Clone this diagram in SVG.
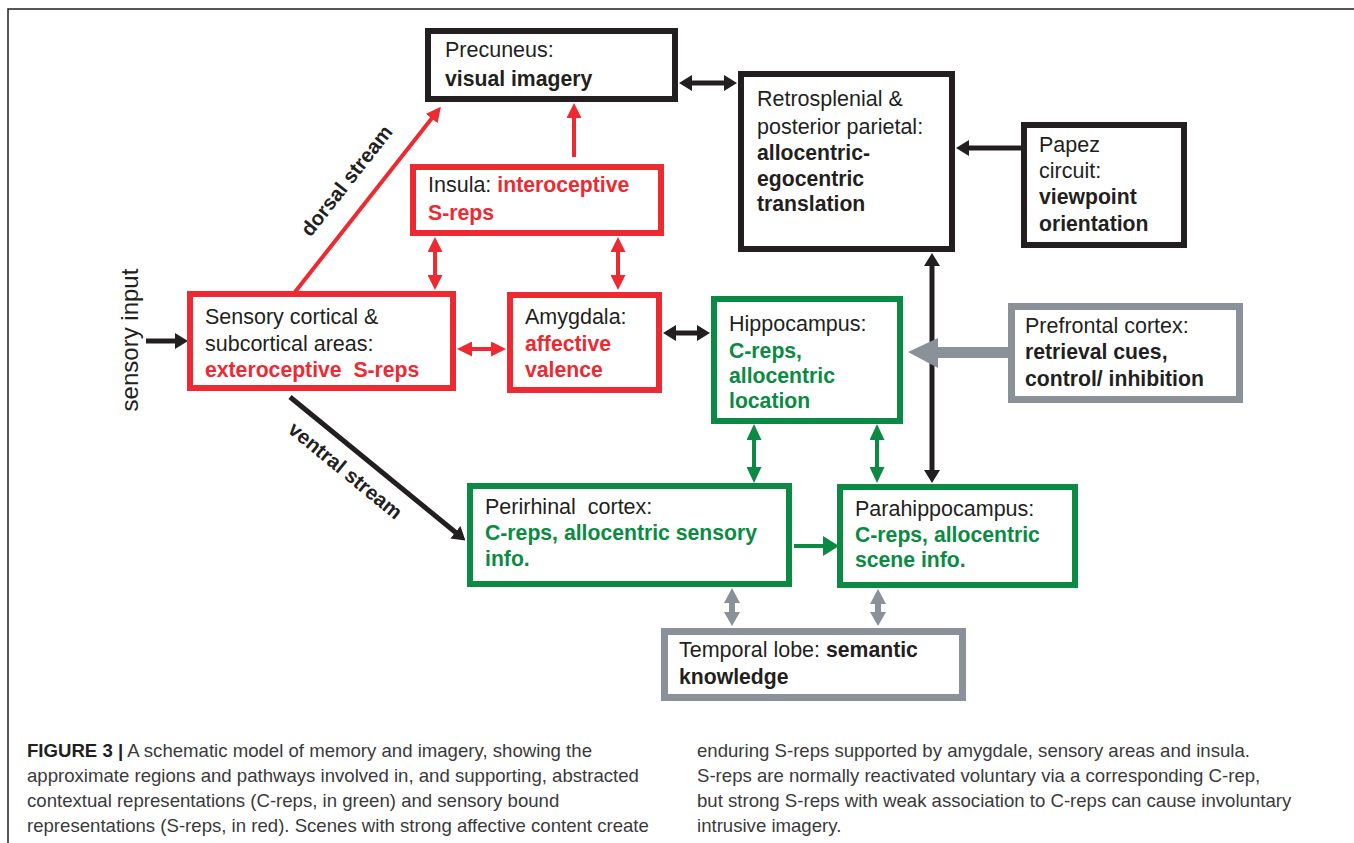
<svg xmlns="http://www.w3.org/2000/svg" width="1354" height="843" viewBox="0 0 1354 843">
<style>
text{font-family:"Liberation Sans",Arial,sans-serif;font-size:21.5px;fill:#231f20}
.b{font-weight:bold;font-size:21.2px}
.r{fill:#ed2a32}
.g{fill:#0b8a43}
.bk{fill:none;stroke:#231f20;stroke-width:6}
.bR{fill:none;stroke:#ed2a32;stroke-width:6}
.bG{fill:none;stroke:#0b8a43;stroke-width:6}
.bY{fill:none;stroke:#8a9199;stroke-width:7}
.cap{font-size:18.6px;fill:#3a3a3a}
.lk{stroke:#231f20;stroke-width:5;fill:none}
.lr{stroke:#ed2a32;stroke-width:4;fill:none}
.lg{stroke:#0b8a43;stroke-width:4;fill:none}
</style>
<defs>
<marker id="aK" markerUnits="userSpaceOnUse" markerWidth="13" markerHeight="16" refX="6" refY="8" orient="auto-start-reverse"><path d="M0,0 L13,8 L0,16 z" fill="#231f20"/></marker>
<marker id="aR" markerUnits="userSpaceOnUse" markerWidth="15" markerHeight="15" refX="7" refY="7.5" orient="auto-start-reverse"><path d="M0,0 L15,7.5 L0,15 z" fill="#ed2a32"/></marker>
<marker id="aG" markerUnits="userSpaceOnUse" markerWidth="16" markerHeight="15" refX="7" refY="7.5" orient="auto-start-reverse"><path d="M0,0 L16,7.5 L0,15 z" fill="#0b8a43"/></marker>
<marker id="aG2" markerUnits="userSpaceOnUse" markerWidth="16" markerHeight="20" refX="6" refY="10" orient="auto"><path d="M0,0 L16,10 L0,20 z" fill="#0b8a43"/></marker>
</defs>
<rect width="1354" height="843" fill="#fff"/>
<path d="M8,843 V9 H1354" fill="none" stroke="#231f20" stroke-width="1.5"/>

<g id="connectors">
<line class="lk" x1="146" y1="341" x2="181" y2="341" marker-end="url(#aK)"/>
<line class="lr" x1="295" y1="292" x2="436" y2="113" marker-end="url(#aR)"/>
<line class="lk" x1="290" y1="397" x2="460" y2="536" marker-end="url(#aK)"/>
<line class="lr" x1="574" y1="157" x2="574" y2="111" marker-end="url(#aR)"/>
<line class="lr" x1="435" y1="245" x2="435" y2="282" marker-start="url(#aR)" marker-end="url(#aR)"/>
<line class="lr" x1="618" y1="245" x2="618" y2="282" marker-start="url(#aR)" marker-end="url(#aR)"/>
<line class="lr" x1="465" y1="349" x2="498" y2="349" marker-start="url(#aR)" marker-end="url(#aR)"/>
<line class="lk" x1="670" y1="333" x2="703" y2="333" marker-start="url(#aK)" marker-end="url(#aK)"/>
<line class="lk" x1="686" y1="83" x2="730" y2="83" marker-start="url(#aK)" marker-end="url(#aK)"/>
<line class="lk" x1="1021" y1="148" x2="963" y2="148" marker-end="url(#aK)"/>
<line class="lk" x1="932" y1="260" x2="932" y2="476" marker-start="url(#aK)" marker-end="url(#aK)"/>
<path d="M1008,347 H938 V338 L908,352 L938,368 V358 H1008 z" fill="#8a9199"/>
<line class="lg" x1="754" y1="433" x2="754" y2="474" marker-start="url(#aG)" marker-end="url(#aG)"/>
<line class="lg" x1="877" y1="433" x2="877" y2="474" marker-start="url(#aG)" marker-end="url(#aG)"/>
<line class="lg" x1="794" y1="546" x2="829" y2="546" stroke-width="7" marker-end="url(#aG2)"/>
<path d="M732,588 L740,603 H735 V612 H740 L732,626 L724,612 H729 V603 H724 z" fill="#8a9199"/>
<path d="M878,589 L886,604 H881 V612 H886 L878,626 L870,612 H875 V604 H870 z" fill="#8a9199"/>
<text class="b" transform="translate(352,185) rotate(-51.8)" text-anchor="middle" style="font-size:20.5px">dorsal stream</text>
<text class="b" transform="translate(341,476) rotate(39.3)" text-anchor="middle" style="font-size:20.5px">ventral stream</text>
<text transform="translate(138,340) rotate(-90)" text-anchor="middle" style="font-size:24px">sensory input</text>
</g>

<g id="precuneus"><rect class="bk" x="428" y="31" width="247" height="68"/>
<text x="445" y="57">Precuneus:</text><text class="b" x="445" y="86">visual imagery</text></g>

<g id="retrosplenial"><rect class="bk" x="741" y="74" width="211" height="175"/>
<text x="757" y="106">Retrosplenial &amp;</text><text x="757" y="134">posterior parietal:</text>
<text class="b" x="757" y="160">allocentric-</text><text class="b" x="757" y="186">egocentric</text><text class="b" x="757" y="211">translation</text></g>

<g id="papez"><rect class="bk" x="1024" y="125" width="160" height="120"/>
<text x="1039" y="152">Papez</text><text x="1039" y="178">circuit:</text>
<text class="b" x="1039" y="204">viewpoint</text><text class="b" x="1039" y="231">orientation</text></g>

<g id="insula"><rect class="bR" x="413" y="167" width="248" height="66"/>
<text x="428" y="192">Insula: <tspan class="b r">interoceptive</tspan></text><text class="b r" x="428" y="220">S-reps</text></g>

<g id="sensory"><rect class="bR" x="190" y="294" width="263" height="94"/>
<text x="205" y="324">Sensory cortical &amp;</text><text x="205" y="351">subcortical areas:</text>
<text class="b r" x="205" y="377" xml:space="preserve">exteroceptive  S-reps</text></g>

<g id="amygdala"><rect class="bR" x="510" y="295" width="149" height="95"/>
<text x="525" y="324">Amygdala:</text><text class="b r" x="525" y="351">affective</text><text class="b r" x="525" y="377">valence</text></g>

<g id="hippocampus"><rect class="bG" x="714" y="299" width="186" height="122"/>
<text x="729" y="331">Hippocampus:</text><text class="b g" x="729" y="358">C-reps,</text>
<text class="b g" x="729" y="383">allocentric</text><text class="b g" x="729" y="408">location</text></g>

<g id="prefrontal"><rect class="bY" x="1011.5" y="306.5" width="228" height="93"/>
<text x="1025" y="333">Prefrontal cortex:</text><text class="b" x="1025" y="359">retrieval cues,</text>
<text class="b" x="1025" y="386">control/ inhibition</text></g>

<g id="perirhinal"><rect class="bG" x="470" y="486" width="319" height="98"/>
<text x="485" y="514" xml:space="preserve">Perirhinal  cortex:</text><text class="b g" x="485" y="540">C-reps, allocentric sensory</text>
<text class="b g" x="485" y="566">info.</text></g>

<g id="parahippocampus"><rect class="bG" x="840" y="487" width="235" height="98"/>
<text x="855" y="516">Parahippocampus:</text><text class="b g" x="855" y="542">C-reps, allocentric</text>
<text class="b g" x="855" y="567">scene info.</text></g>

<g id="temporal"><rect class="bY" x="664.5" y="631.5" width="298" height="66"/>
<text x="679" y="657">Temporal lobe: <tspan class="b">semantic</tspan></text><text class="b" x="679" y="684">knowledge</text></g>

<g id="caption">
<text class="cap" x="27" y="757"><tspan style="font-weight:bold;fill:#231f20">FIGURE 3 |</tspan> A schematic model of memory and imagery, showing the</text>
<text class="cap" x="27" y="782">approximate regions and pathways involved in, and supporting, abstracted</text>
<text class="cap" x="27" y="807">contextual representations (C-reps, in green) and sensory bound</text>
<text class="cap" x="27" y="832">representations (S-reps, in red). Scenes with strong affective content create</text>
<text class="cap" x="697" y="757">enduring S-reps supported by amygdale, sensory areas and insula.</text>
<text class="cap" x="697" y="782">S-reps are normally reactivated voluntary via a corresponding C-rep,</text>
<text class="cap" x="697" y="807">but strong S-reps with weak association to C-reps can cause involuntary</text>
<text class="cap" x="697" y="832">intrusive imagery.</text>
</g>
</svg>
